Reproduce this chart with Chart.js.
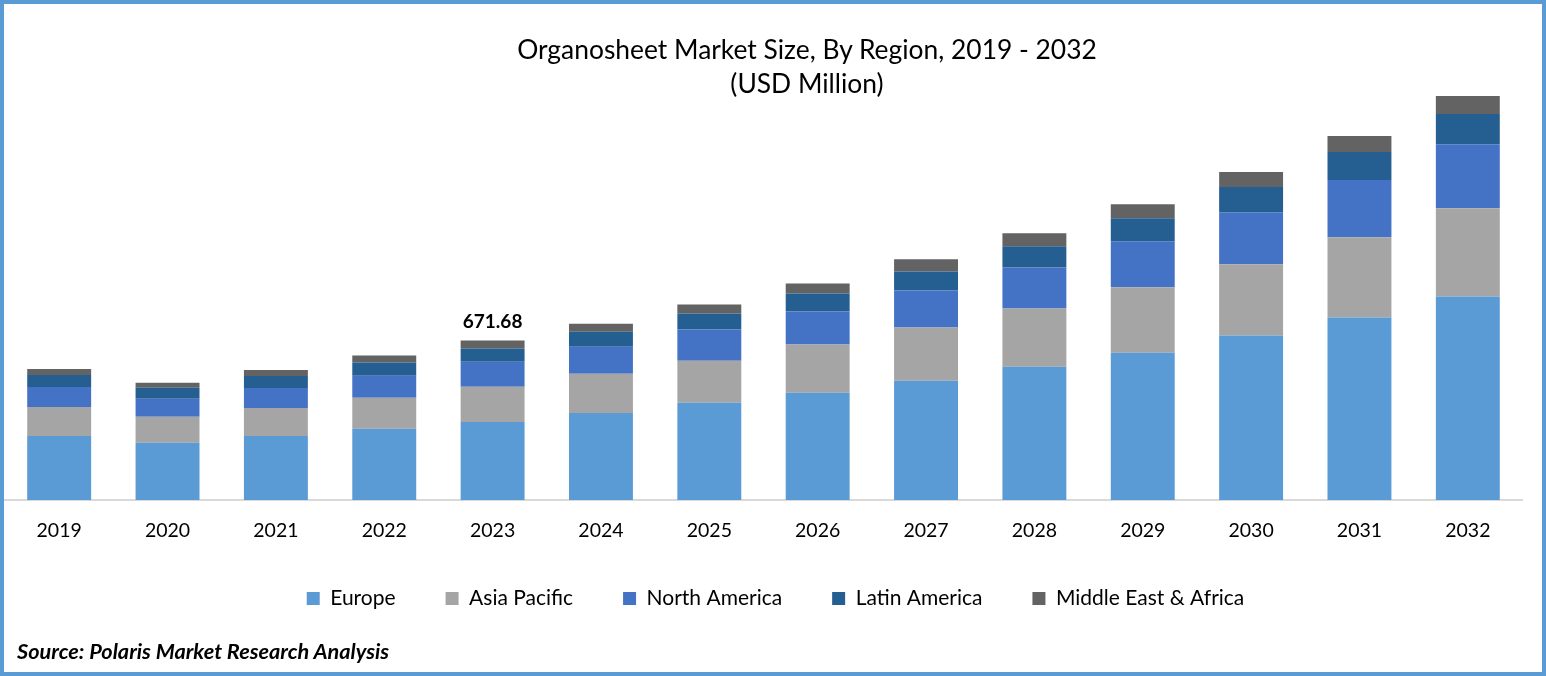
<!DOCTYPE html>
<html>
<head>
<meta charset="utf-8">
<title>Organosheet Market Size</title>
<script src="https://cdn.jsdelivr.net/npm/chart.js@4"></script>
<style>
  html, body { margin: 0; padding: 0; background: #fff; }
  #frame { position: relative; width: 1538px; height: 668px; border: 4px solid #5b9bd5; overflow: hidden; }
  #chart_title { position: absolute; left: 403px; top: 28px; width: 800px; text-align: center; font: 26.4px/34px Lato, sans-serif; color: #000; }
  #source { position: absolute; left: 13px; top: 634px; font: italic bold 21.7px Lato, sans-serif; color: #000; }
</style>
</head>
<body>
<div id="frame">
  <canvas id="market_chart" width="1538" height="668"></canvas>
  <div id="chart_title">Organosheet Market Size, By Region, 2019 - 2032<br>(USD Million)</div>
  <div id="source">Source: Polaris Market Research Analysis</div>
</div>
<script>
// values in USD million
const years = ["2019", "2020", "2021", "2022", "2023", "2024", "2025", "2026", "2027", "2028", "2029", "2030", "2031", "2032"];
const europe = [270, 241, 270, 300, 329, 367, 410, 452, 503, 562, 621, 693, 769, 857];
const asia_pacific = [122, 110, 118, 131, 148, 165, 177, 203, 224, 245, 275, 300, 338, 372];
const north_america = [84, 76, 84, 93, 106, 114, 131, 139, 156, 173, 194, 220, 241, 270];
const latin_america = [51, 46, 51, 55, 55, 63, 68, 76, 80, 89, 97, 106, 118, 127];
const middle_east_africa = [25, 21, 25, 30, 33.68, 34, 38, 42, 51, 55, 59, 63, 68, 76];
const callout_year = "2023";

const font_name = "Lato, sans-serif";

// writes the total above the one stack that carries a label
const callout_plugin = {
  id: 'callout',
  afterLayout(chart) {
    // legend sits a little right of centre in the original, and closer to the axis
    chart.legend.left += 24;
    chart.legend.top -= 8;
  },
  afterDatasetsDraw(chart) {
    let idx = years.indexOf(callout_year);
    let total = 0;
    chart.data.datasets.forEach(ds => { total += ds.data[idx]; });
    let ctx = chart.ctx;
    ctx.save();
    ctx.font = "bold 19px " + font_name;
    ctx.fillStyle = "#000";
    ctx.textAlign = "center";
    ctx.textBaseline = "bottom";
    ctx.fillText(total.toFixed(2), chart.scales.x.getPixelForValue(idx), chart.scales.y.getPixelForValue(total) - 9);
    ctx.restore();
  }
};

function make_series(label, values, colour) {
  return {
    label: label,
    data: values,
    backgroundColor: colour,
    borderWidth: 0,
    categoryPercentage: 1,
    barPercentage: 0.59
  };
}

new Chart(document.getElementById("market_chart").getContext('2d'), {
  type: 'bar',
  data: {
    labels: years,
    datasets: [
      make_series("Europe", europe, "#5b9bd5"),
      make_series("Asia Pacific", asia_pacific, "#a5a5a5"),
      make_series("North America", north_america, "#4472c4"),
      make_series("Latin America", latin_america, "#255e91"),
      make_series("Middle East & Africa", middle_east_africa, "#636363")
    ]
  },
  plugins: [callout_plugin],
  options: {
    responsive: false,
    animation: false,
    layout: { padding: { left: 1, right: 20, top: 75, bottom: 45 } },
    plugins: {
      title: { display: false },
      legend: {
        position: 'bottom',
        labels: {
          color: "#000",
          boxWidth: 13,
          boxHeight: 13,
          padding: 50,
          font: { family: font_name, size: 21 }
        }
      },
      tooltip: { enabled: false }
    },
    scales: {
      x: {
        stacked: true,
        grid: { display: false, drawTicks: false },
        border: { color: "#d9d9d9", width: 2 },
        ticks: { color: "#000", padding: 19, font: { family: font_name, size: 19.5 }, maxRotation: 0 },
        afterFit(scale) { scale.height = 46; }
      },
      y: {
        stacked: true,
        display: false,
        min: 0,
        max: 1774
      }
    }
  }
});
</script>
</body>
</html>
